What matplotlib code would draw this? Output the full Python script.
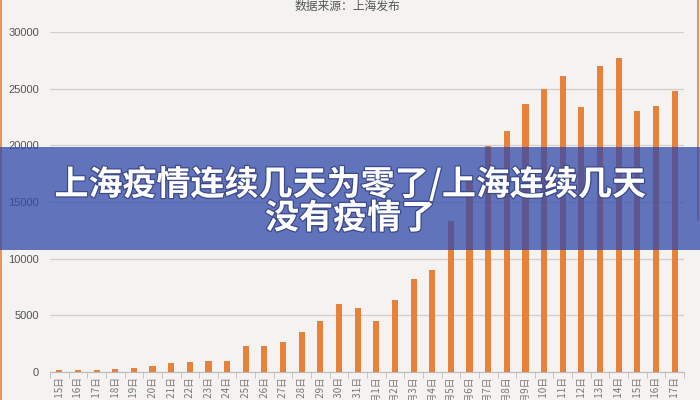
import matplotlib.pyplot as plt
import matplotlib.patheffects as pe
from matplotlib.patches import Rectangle
from matplotlib.lines import Line2D

# Data (daily new cases, Shanghai)
dates = ['3月%d日' % d for d in range(15, 32)] + ['4月%d日' % d for d in range(1, 18)]
cases = [169, 202, 158, 260, 374, 509, 758, 896, 981, 983,
         2269, 2269, 2676, 3500, 4477, 5982, 5653, 4502, 6311, 8226,
         9006, 13354, 17077, 19982, 21222, 23624, 24943, 26087, 23342, 26990,
         27719, 23072, 23513, 24820]
y_ticks = [0, 5000, 10000, 15000, 20000, 25000, 30000]

source_text = '数据来源：上海发布'
banner_lines = ['上海疫情连续几天为零了/上海连续几天', '没有疫情了']

plt.rcParams['font.family'] = ['Noto Sans CJK SC', 'DejaVu Sans']

fig = plt.figure(figsize=(7, 4), dpi=100)
fig.patch.set_facecolor('#f4f3f1')
ax = fig.add_axes([0.0714, 0.07, 0.9057, 0.85])
ax.set_facecolor('none')

x = list(range(len(dates)))
ax.bar(x, cases, width=0.33, color='#e8813a', zorder=3)

ax.set_xlim(-0.5, len(dates) - 0.5)
ax.set_ylim(0, 30000)
ax.set_yticks(y_ticks)
ax.set_yticklabels([str(v) for v in y_ticks], family='Liberation Sans',
                   fontsize=8, color='#555555')
ax.grid(axis='y', color='#cfcfcf', linewidth=0.9, zorder=0)

# date labels run off the bottom edge, as in the source image
ax.set_xticks(x)
ax.set_xticklabels(dates, rotation=90, fontsize=7, color='#777777')
ax.set_xticks([i - 0.5 for i in range(len(dates) + 1)], minor=True)
ax.tick_params(axis='x', which='major', length=0, pad=3)
ax.tick_params(axis='x', which='minor', length=4, color='#bbbbbb')
ax.tick_params(axis='y', length=0, pad=8)

for side in ['top', 'right', 'left']:
    ax.spines[side].set_visible(False)
ax.spines['bottom'].set_color('#bbbbbb')

# Source line at the top
fig.text(0.497, 0.985, source_text, ha='center', va='center',
         fontsize=8.5, color='#555555')

# Thin orange frame on the sides
fig.lines.append(Line2D([0.0015, 0.0015], [0, 1], transform=fig.transFigure,
                        color='#e8813a', linewidth=1.2))
fig.lines.append(Line2D([0.997, 0.997], [0.45, 1], transform=fig.transFigure,
                        color='#e8813a', linewidth=1.2))

# Blue banner with title text
banner = Rectangle((0, 0.375), 1, 0.2575, transform=fig.transFigure,
                   facecolor=(48 / 255, 72 / 255, 168 / 255), alpha=0.75,
                   edgecolor='none', zorder=5)
fig.patches.append(banner)

title_fx = [pe.withStroke(linewidth=1.8, foreground='#3c4a8c')]
fig.text(0.5, 0.54, banner_lines[0], ha='center', va='center', fontsize=24.5,
         fontweight='black', color='white', zorder=6, path_effects=title_fx)
fig.text(0.5, 0.455, banner_lines[1], ha='center', va='center', fontsize=24.5,
         fontweight='black', color='white', zorder=6, path_effects=title_fx)

fig.savefig('out.png', dpi=100, facecolor=fig.get_facecolor())
plt.close(fig)
